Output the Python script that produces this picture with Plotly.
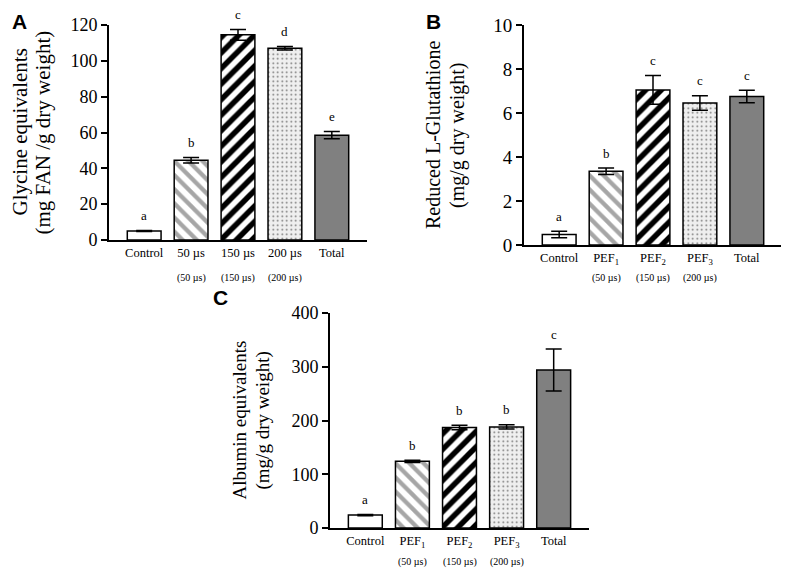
import plotly.graph_objects as go

# Panel A - glycine equivalents
cats = ["Control", "T1", "T2", "T3", "Total"]
a_labels = ["Control", "50 µs", "150 µs", "200 µs", "Total"]
a_means = [5.0, 44.5, 114.5, 107.0, 58.5]
a_errs = [0.3, 1.5, 3.0, 1.0, 2.0]
a_letters = ["a", "b", "c", "d", "e"]

# Panel B - reduced L-glutathione
b_labels = ["Control", "PEF<sub>1</sub>", "PEF<sub>2</sub>", "PEF<sub>3</sub>", "Total"]
b_means = [0.48, 3.35, 7.05, 6.45, 6.75]
b_errs = [0.15, 0.15, 0.65, 0.33, 0.28]
b_letters = ["a", "b", "c", "c", "c"]

# Panel C - albumin equivalents
c_labels = b_labels
c_means = [24.0, 124.0, 187.0, 188.0, 294.0]
c_errs = [1.0, 2.0, 4.0, 4.0, 39.0]
c_letters = ["a", "b", "b", "b", "c"]

sub_labels = ["", "(50 µs)", "(150 µs)", "(200 µs)", ""]

SERIF = "Liberation Serif"
W, H = 789, 568
OFF = 8  # page body margin, positions below are page pixels

# bar styling per category: (pattern shape, fill, pattern colour, size, solidity)
styles = [
    ("", "white", "white", 8, 0.3),
    ("\\", "white", "#a6a6a6", 10, 0.42),
    ("/", "white", "black", 11, 0.5),
    (".", "#efefef", "#707070", 4.5, 0.12),
    ("", "#808080", "#808080", 8, 0.3),
]


def px_x(p):
    return (p - OFF) / W


def px_y(p):
    return 1 - (p - OFF) / H


fig = go.Figure()

panels = [
    dict(sfx="", labels=a_labels, means=a_means, errs=a_errs, letters=a_letters,
         xr=(109, 367), yr=(25, 240), ymax=120, dtick=20, tick_size=18,
         titles=["Glycine equivalents", "(mg FAN /g dry weight)"], title_size=21,
         title_x=(19, 42), sub_y=278),
    dict(sfx="2", labels=b_labels, means=b_means, errs=b_errs, letters=b_letters,
         xr=(524, 782), yr=(25, 245), ymax=10, dtick=2, tick_size=19,
         titles=["Reduced L-Glutathione", "(mg/g dry weight)"], title_size=20,
         title_x=(433, 458), sub_y=278),
    dict(sfx="3", labels=c_labels, means=c_means, errs=c_errs, letters=c_letters,
         xr=(330, 589), yr=(313, 528), ymax=400, dtick=100, tick_size=18,
         titles=["Albumin equivalents", "(mg/g dry weight)"], title_size=19,
         title_x=(239, 263), sub_y=562),
]

annotations = []
for p in panels:
    xa = "x" + p["sfx"]
    ya = "y" + p["sfx"]
    for c, m, e, st in zip(cats, p["means"], p["errs"], styles):
        shape, fill, fg, size, solid = st
        fig.add_trace(
            go.Bar(
                x=[c],
                y=[m],
                width=0.72,
                xaxis=xa,
                yaxis=ya,
                marker=dict(
                    color=fill,
                    line=dict(color="black", width=1.5),
                    pattern=dict(shape=shape, fgcolor=fg, bgcolor=fill, size=size,
                                 solidity=solid),
                ),
                error_y=dict(type="data", array=[e], color="black", thickness=1.5, width=8),
                showlegend=False,
            )
        )
    fig.update_layout({
        "xaxis" + p["sfx"]: dict(
            domain=[px_x(p["xr"][0]), px_x(p["xr"][1])],
            anchor=ya,
            range=[-0.75, 4.75],
            tickmode="array",
            tickvals=cats,
            ticktext=p["labels"],
            ticks="",
            showline=True,
            linecolor="black",
            linewidth=2,
            showgrid=False,
            zeroline=False,
            automargin=False,
            tickfont=dict(family=SERIF, size=12.5, color="black"),
        ),
        "yaxis" + p["sfx"]: dict(
            domain=[px_y(p["yr"][1]), px_y(p["yr"][0])],
            anchor=xa,
            range=[0, p["ymax"]],
            dtick=p["dtick"],
            ticks="outside",
            ticklen=6,
            tickwidth=1.5,
            tickcolor="black",
            showline=True,
            linecolor="black",
            linewidth=2,
            showgrid=False,
            zeroline=False,
            automargin=False,
            tickfont=dict(family=SERIF, size=p["tick_size"], color="black"),
        ),
    })

    # significance letters
    for c, m, e, t in zip(cats, p["means"], p["errs"], p["letters"]):
        annotations.append(dict(x=c, y=m + e, xref=xa, yref=ya, text=t, showarrow=False,
                                yanchor="middle", yshift=15,
                                font=dict(family=SERIF, size=13, color="black")))

    # pulse-width notes under the tick labels
    for c, t in zip(cats, sub_labels):
        if t:
            annotations.append(dict(x=c, y=px_y(p["sub_y"]), xref=xa, yref="paper", text=t,
                                    showarrow=False, yanchor="middle",
                                    font=dict(family=SERIF, size=10, color="black")))

    # y axis title, one annotation per line
    yc = (p["yr"][0] + p["yr"][1]) / 2
    for t, tx in zip(p["titles"], p["title_x"]):
        annotations.append(dict(x=px_x(tx), y=px_y(yc), xref="paper", yref="paper",
                                text=t, textangle=-90, showarrow=False,
                                xanchor="center", yanchor="middle",
                                font=dict(family=SERIF, size=p["title_size"], color="black")))

# panel letters
for t, x, y in [("A", 19, 21), ("B", 433, 21), ("C", 220, 297)]:
    annotations.append(dict(x=px_x(x), y=px_y(y), xref="paper", yref="paper", text="<b>%s</b>" % t,
                            showarrow=False, xanchor="center", yanchor="middle",
                            font=dict(family="Liberation Sans", size=21, color="black")))

fig.update_layout(
    template="none",
    width=W,
    height=H,
    margin=dict(l=0, r=0, t=0, b=0),
    paper_bgcolor="white",
    plot_bgcolor="white",
    font=dict(family=SERIF, color="black"),
    annotations=annotations,
    barmode="overlay",
    showlegend=False,
)

fig.write_html("out.html")
